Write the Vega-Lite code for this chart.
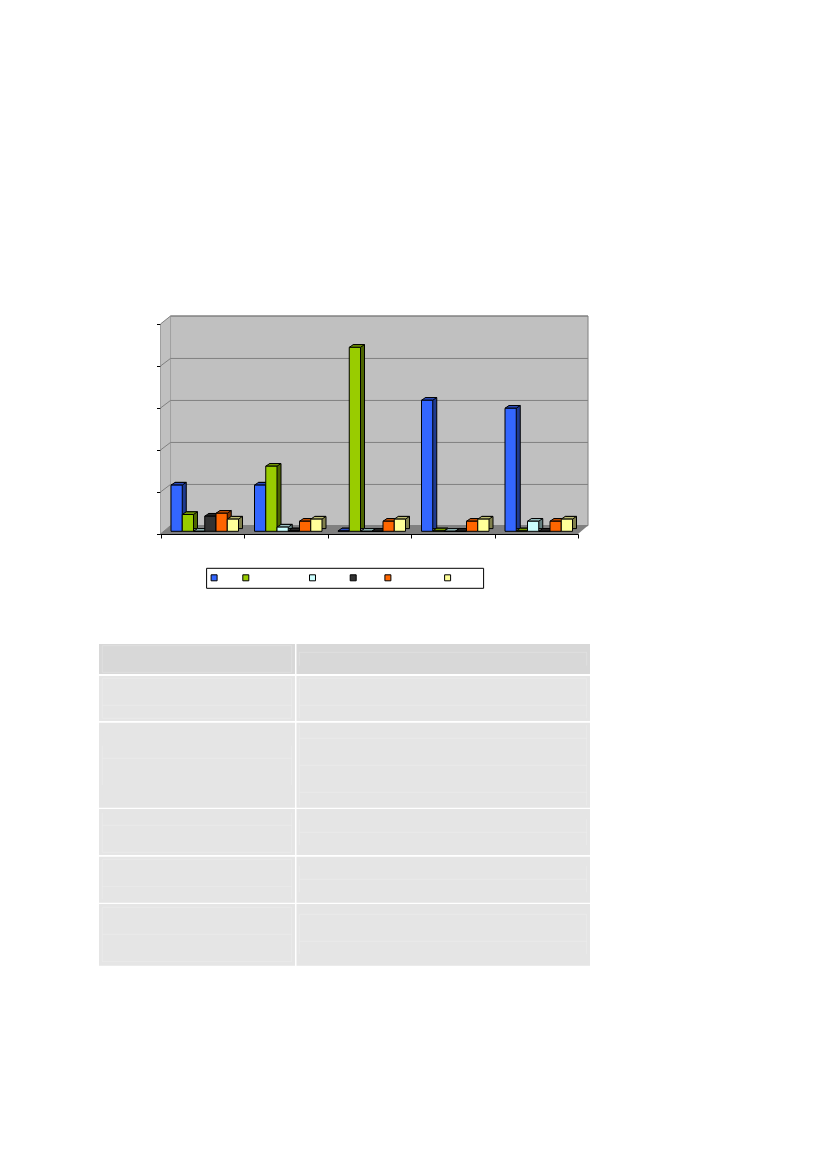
{
  "$schema": "https://vega.github.io/schema/vega-lite/v6.json",
  "padding": {"left": 99, "top": 314, "right": 0, "bottom": 0},
  "background": "white",
  "config": {"view": {"stroke": null}},
  "spacing": 55,
  "datasets": {
    "bars": [
      {"group": "G1", "series": "EU", "value": 1.1},
      {"group": "G1", "series": "South Asia", "value": 0.4},
      {"group": "G1", "series": "Chile", "value": 0},
      {"group": "G1", "series": "CIS", "value": 0.36},
      {"group": "G1", "series": "Americas", "value": 0.43},
      {"group": "G1", "series": "Syria", "value": 0.29},
      {"group": "G2", "series": "EU", "value": 1.1},
      {"group": "G2", "series": "South Asia", "value": 1.55},
      {"group": "G2", "series": "Chile", "value": 0.1},
      {"group": "G2", "series": "CIS", "value": 0.01},
      {"group": "G2", "series": "Americas", "value": 0.24},
      {"group": "G2", "series": "Syria", "value": 0.29},
      {"group": "G3", "series": "EU", "value": 0.01},
      {"group": "G3", "series": "South Asia", "value": 4.38},
      {"group": "G3", "series": "Chile", "value": 0},
      {"group": "G3", "series": "CIS", "value": 0},
      {"group": "G3", "series": "Americas", "value": 0.24},
      {"group": "G3", "series": "Syria", "value": 0.29},
      {"group": "G4", "series": "EU", "value": 3.12},
      {"group": "G4", "series": "South Asia", "value": 0.01},
      {"group": "G4", "series": "Chile", "value": 0},
      {"group": "G4", "series": "CIS", "value": 0},
      {"group": "G4", "series": "Americas", "value": 0.24},
      {"group": "G4", "series": "Syria", "value": 0.29},
      {"group": "G5", "series": "EU", "value": 2.93},
      {"group": "G5", "series": "South Asia", "value": 0.01},
      {"group": "G5", "series": "Chile", "value": 0.24},
      {"group": "G5", "series": "CIS", "value": 0},
      {"group": "G5", "series": "Americas", "value": 0.24},
      {"group": "G5", "series": "Syria", "value": 0.29}
    ],
    "gridlines": [
      {"tick": 0, "x": 0, "y": 0}, {"tick": 0, "x": 0.12, "y": 0.2}, {"tick": 0, "x": 5.12, "y": 0.2},
      {"tick": 1, "x": 0, "y": 1}, {"tick": 1, "x": 0.12, "y": 1.18}, {"tick": 1, "x": 5.12, "y": 1.18},
      {"tick": 2, "x": 0, "y": 2}, {"tick": 2, "x": 0.12, "y": 2.18}, {"tick": 2, "x": 5.12, "y": 2.18},
      {"tick": 3, "x": 0, "y": 3}, {"tick": 3, "x": 0.12, "y": 3.18}, {"tick": 3, "x": 5.12, "y": 3.18},
      {"tick": 4, "x": 0, "y": 4}, {"tick": 4, "x": 0.12, "y": 4.18}, {"tick": 4, "x": 5.12, "y": 4.18},
      {"tick": 5, "x": 0, "y": 5}, {"tick": 5, "x": 0.12, "y": 5.19}, {"tick": 5, "x": 5.12, "y": 5.19}
    ],
    "cells": [
      {"kind": "head", "left": 0, "right": 196, "top": 0, "bottom": 30},
      {"kind": "head", "left": 197.5, "right": 491, "top": 0, "bottom": 30},
      {"kind": "body", "left": 0, "right": 196, "top": 32, "bottom": 77},
      {"kind": "body", "left": 197.5, "right": 491, "top": 32, "bottom": 77},
      {"kind": "body", "left": 0, "right": 196, "top": 78.7, "bottom": 163.7},
      {"kind": "body", "left": 197.5, "right": 491, "top": 78.7, "bottom": 163.7},
      {"kind": "body", "left": 0, "right": 196, "top": 165, "bottom": 211},
      {"kind": "body", "left": 197.5, "right": 491, "top": 165, "bottom": 211},
      {"kind": "body", "left": 0, "right": 196, "top": 212.7, "bottom": 258.7},
      {"kind": "body", "left": 197.5, "right": 491, "top": 212.7, "bottom": 258.7},
      {"kind": "body", "left": 0, "right": 196, "top": 260, "bottom": 321.7},
      {"kind": "body", "left": 197.5, "right": 491, "top": 260, "bottom": 321.7}
    ],
    "hairlines": [
      {"x": 3.3, "x2": 192.7, "y": 1.7, "y2": 1.7}, {"x": 3.3, "x2": 192.7, "y": 28.3, "y2": 28.3}, {"x": 3.3, "x2": 3.3, "y": 1.7, "y2": 28.3}, {"x": 192.7, "x2": 192.7, "y": 1.7, "y2": 28.3},
      {"x": 200.3, "x2": 487.7, "y": 8.3, "y2": 8.3}, {"x": 200.3, "x2": 200.3, "y": 8.3, "y2": 21.7}, {"x": 487.7, "x2": 487.7, "y": 8.3, "y2": 21.7},
      {"x": 3.3, "x2": 192.7, "y": 34.3, "y2": 34.3}, {"x": 3.3, "x2": 192.7, "y": 61.3, "y2": 61.3}, {"x": 3.3, "x2": 192.7, "y": 74.3, "y2": 74.3}, {"x": 3.3, "x2": 3.3, "y": 34.3, "y2": 74.3}, {"x": 192.7, "x2": 192.7, "y": 34.3, "y2": 74.3},
      {"x": 200.3, "x2": 487.7, "y": 34.3, "y2": 34.3}, {"x": 200.3, "x2": 487.7, "y": 61.3, "y2": 61.3}, {"x": 200.3, "x2": 200.3, "y": 34.3, "y2": 74.3}, {"x": 487.7, "x2": 487.7, "y": 34.3, "y2": 74.3},
      {"x": 3.3, "x2": 192.7, "y": 114.3, "y2": 114.3}, {"x": 3.3, "x2": 3.3, "y": 101.7, "y2": 141}, {"x": 192.7, "x2": 192.7, "y": 101.7, "y2": 141},
      {"x": 200.3, "x2": 487.7, "y": 94.3, "y2": 94.3}, {"x": 200.3, "x2": 487.7, "y": 121.3, "y2": 121.3}, {"x": 200.3, "x2": 487.7, "y": 148.3, "y2": 148.3}, {"x": 200.3, "x2": 200.3, "y": 81, "y2": 161.7}, {"x": 487.7, "x2": 487.7, "y": 81, "y2": 161.7},
      {"x": 3.3, "x2": 192.7, "y": 181.3, "y2": 181.3}, {"x": 3.3, "x2": 192.7, "y": 208.3, "y2": 208.3}, {"x": 3.3, "x2": 3.3, "y": 168.7, "y2": 208.3}, {"x": 192.7, "x2": 192.7, "y": 168.7, "y2": 208.3},
      {"x": 200.3, "x2": 487.7, "y": 188.3, "y2": 188.3}, {"x": 200.3, "x2": 200.3, "y": 175.3, "y2": 201}, {"x": 487.7, "x2": 487.7, "y": 175.3, "y2": 201},
      {"x": 3.3, "x2": 192.7, "y": 215.3, "y2": 215.3}, {"x": 3.3, "x2": 192.7, "y": 242.7, "y2": 242.7}, {"x": 3.3, "x2": 3.3, "y": 215.3, "y2": 255.3}, {"x": 192.7, "x2": 192.7, "y": 215.3, "y2": 255.3},
      {"x": 200.3, "x2": 487.7, "y": 235.3, "y2": 235.3}, {"x": 200.3, "x2": 200.3, "y": 222, "y2": 248.3}, {"x": 487.7, "x2": 487.7, "y": 222, "y2": 248.3},
      {"x": 3.3, "x2": 192.7, "y": 263.3, "y2": 263.3}, {"x": 3.3, "x2": 192.7, "y": 290.3, "y2": 290.3}, {"x": 3.3, "x2": 192.7, "y": 317.7, "y2": 317.7}, {"x": 3.3, "x2": 3.3, "y": 263.3, "y2": 317.7}, {"x": 192.7, "x2": 192.7, "y": 263.3, "y2": 317.7},
      {"x": 200.3, "x2": 487.7, "y": 270.3, "y2": 270.3}, {"x": 200.3, "x2": 487.7, "y": 297.3, "y2": 297.3}, {"x": 200.3, "x2": 200.3, "y": 270.3, "y2": 310}, {"x": 487.7, "x2": 487.7, "y": 270.3, "y2": 310}
    ]
  },
  "vconcat": [
    {
      "width": 491,
      "height": 218,
      "resolve": {"scale": {"x": "independent", "y": "independent"}},
      "layer": [
        {
          "encoding": {
            "y": {"type": "quantitative", "scale": {"domain": [0, 5], "range": [218, 8], "nice": false, "zero": false}, "title": null,
              "axis": {"values": [0, 1, 2, 3, 4, 5], "labels": false, "grid": false, "offset": -61.5, "domainColor": "#000000", "tickColor": "#000000", "tickSize": 4}}
          },
          "layer": [
            {
              "data": {"values": [{"x": 0.12, "x2": 5.12, "y": 0.2, "y2": 5.19}]},
              "mark": {"type": "rect", "fill": "#c0c0c0", "stroke": "#808080", "strokeWidth": 1},
              "encoding": {
                "x": {"field": "x", "type": "quantitative", "scale": {"domain": [0, 5], "range": [61.5, 479], "nice": false, "zero": false}, "title": null,
                  "axis": {"values": [0, 1, 2, 3, 4, 5], "labels": false, "grid": false, "domainColor": "#000000", "tickColor": "#000000", "tickSize": 4}},
                "x2": {"field": "x2"},
                "y": {"field": "y"},
                "y2": {"field": "y2"}
              }
            },
            {
              "data": {"values": [{"x": 0, "y": 0, "y2": 5}, {"x": 0.12, "y": 0.2, "y2": 5.19}]},
              "mark": {"type": "area", "fill": "#c0c0c0"},
              "encoding": {"x": {"field": "x", "type": "quantitative"}, "y": {"field": "y"}, "y2": {"field": "y2"}}
            },
            {
              "data": {"values": [{"x": 0, "y": 0, "y2": 0}, {"x": 0.12, "y": 0, "y2": 0.2}, {"x": 5, "y": 0, "y2": 0.2}, {"x": 5.12, "y": 0.2, "y2": 0.2}]},
              "mark": {"type": "area", "fill": "#808080"},
              "encoding": {"x": {"field": "x", "type": "quantitative"}, "y": {"field": "y"}, "y2": {"field": "y2"}}
            },
            {
              "data": {"name": "gridlines"},
              "mark": {"type": "line", "stroke": "#808080", "strokeWidth": 1},
              "encoding": {"x": {"field": "x", "type": "quantitative"}, "y": {"field": "y"}, "detail": {"field": "tick"}}
            }
          ]
        },
        {
          "data": {"name": "bars"},
          "resolve": {"scale": {"y": "independent", "xOffset": "independent", "color": "independent"}},
          "encoding": {
            "x": {"field": "group", "type": "nominal", "axis": null, "scale": {"type": "band", "range": [61.5, 479], "paddingInner": 0, "paddingOuter": 0}}
          },
          "layer": [
            {
              "mark": {"type": "bar", "stroke": "#000000", "strokeWidth": 1},
              "encoding": {
                "xOffset": {"field": "series", "type": "nominal", "scale": {"type": "band", "domain": ["EU", "South Asia", "Chile", "CIS", "Americas", "Syria"], "range": [14.5, 82], "paddingInner": 0, "paddingOuter": 0}},
                "y": {"field": "value", "type": "quantitative", "axis": null, "scale": {"domain": [0, 5], "range": [212.6, 2.6], "nice": false, "zero": false}},
                "y2": {"datum": 0},
                "color": {"field": "series", "type": "nominal", "legend": null, "scale": {"domain": ["EU", "South Asia", "Chile", "CIS", "Americas", "Syria"], "range": ["#1f3a8f", "#4d6600", "#668080", "#1a1a1a", "#803300", "#80804d"]}}
              }
            },
            {
              "mark": {"type": "point", "filled": true, "size": 4, "opacity": 1, "stroke": "#000000", "strokeWidth": 1, "shape": "M-5.6,0L5.6,0L9.6,-2.7L-1.6,-2.7Z"},
              "encoding": {
                "xOffset": {"field": "series", "type": "nominal", "scale": {"type": "band", "domain": ["EU", "South Asia", "Chile", "CIS", "Americas", "Syria"], "range": [10.5, 78], "paddingInner": 0, "paddingOuter": 0}},
                "y": {"field": "value", "type": "quantitative", "axis": null, "scale": {"domain": [0, 5], "range": [215.3, 5.3], "nice": false, "zero": false}},
                "color": {"field": "series", "type": "nominal", "legend": null, "scale": {"domain": ["EU", "South Asia", "Chile", "CIS", "Americas", "Syria"], "range": ["#2b4cbf", "#739900", "#99bfbf", "#262626", "#bf4d00", "#bfbf73"]}}
              }
            },
            {
              "mark": {"type": "bar", "stroke": "#000000", "strokeWidth": 1},
              "encoding": {
                "xOffset": {"field": "series", "type": "nominal", "scale": {"type": "band", "domain": ["EU", "South Asia", "Chile", "CIS", "Americas", "Syria"], "range": [10.5, 78], "paddingInner": 0, "paddingOuter": 0}},
                "y": {"field": "value", "type": "quantitative", "axis": null, "scale": {"domain": [0, 5], "range": [215.3, 5.3], "nice": false, "zero": false}},
                "y2": {"datum": 0},
                "color": {"field": "series", "type": "nominal",
                  "scale": {"domain": ["EU", "South Asia", "Chile", "CIS", "Americas", "Syria"], "range": ["#3366ff", "#99cc00", "#ccffff", "#333333", "#ff6600", "#ffff99"]},
                  "legend": {"title": null, "orient": "none", "legendX": 107.1, "legendY": 251.8, "columns": 6, "symbolType": "square", "symbolSize": 36, "symbolStrokeColor": "#000000", "symbolStrokeWidth": 1, "symbolOpacity": 1, "labelFontSize": 10, "labelFont": "Liberation Sans", "labelOpacity": 0, "labelOffset": 4, "columnPadding": 3.7, "rowPadding": 0, "padding": 3, "clipHeight": 14, "gridAlign": "each", "strokeColor": "#000000", "fillColor": "#ffffff"}
                }
              }
            }
          ]
        }
      ]
    },
    {
      "width": 491,
      "height": 321.7,
      "layer": [
        {
          "data": {"name": "cells"},
          "mark": {"type": "rect"},
          "encoding": {
            "x": {"field": "left", "type": "quantitative", "axis": null, "scale": {"domain": [0, 491], "nice": false, "zero": false}},
            "x2": {"field": "right"},
            "y": {"field": "top", "type": "quantitative", "axis": null, "scale": {"domain": [321.7, 0], "nice": false, "zero": false}},
            "y2": {"field": "bottom"},
            "color": {"field": "kind", "type": "nominal", "legend": null, "scale": {"domain": ["head", "body"], "range": ["#d8d8d8", "#e5e5e5"]}}
          }
        },
        {
          "data": {"name": "hairlines"},
          "mark": {"type": "rule", "stroke": "#ffffff", "strokeWidth": 1, "opacity": 0.2},
          "encoding": {
            "x": {"field": "x", "type": "quantitative"},
            "x2": {"field": "x2"},
            "y": {"field": "y", "type": "quantitative"},
            "y2": {"field": "y2"}
          }
        }
      ]
    }
  ]
}
